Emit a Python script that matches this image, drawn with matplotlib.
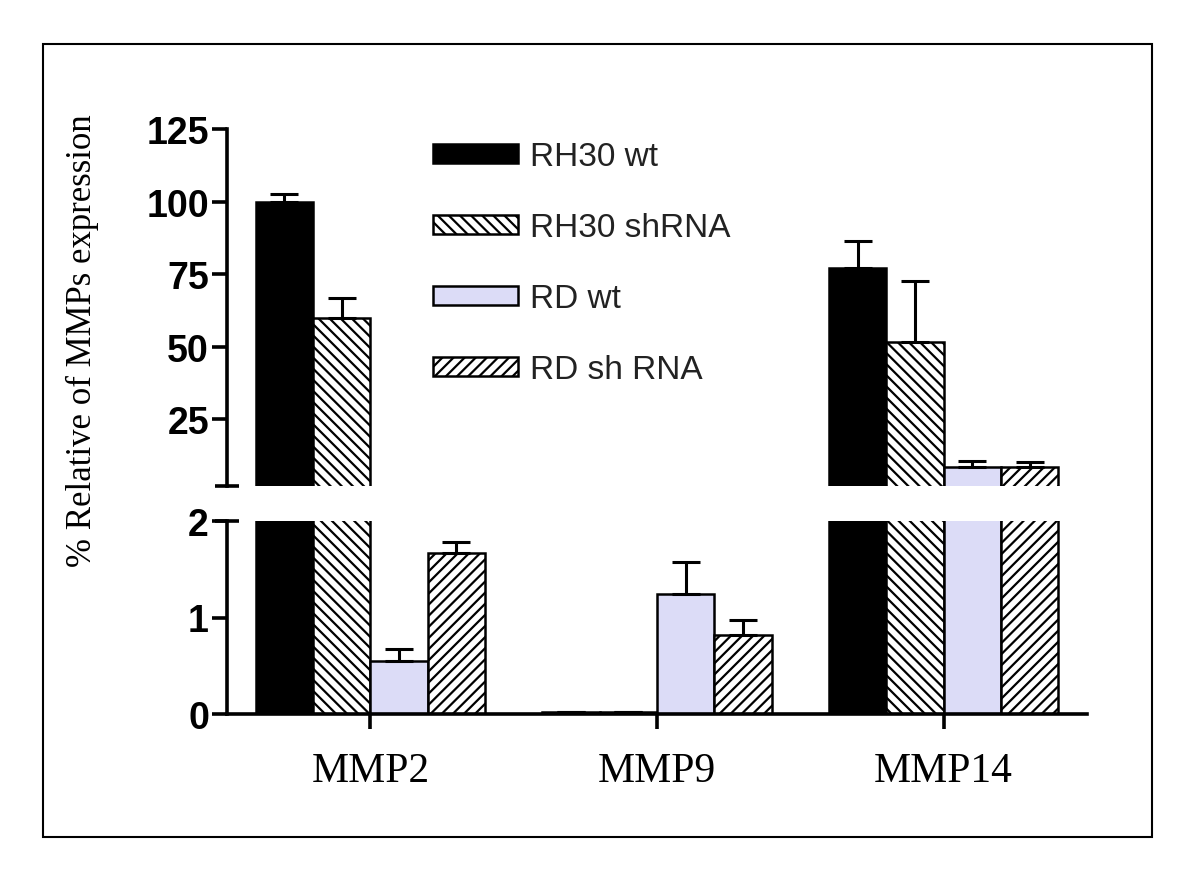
import numpy as np
import matplotlib.pyplot as plt
from matplotlib.patches import Rectangle

# data
genes = ['MMP2', 'MMP9', 'MMP14']
series = ['RH30 wt', 'RH30 shRNA', 'RD wt', 'RD sh RNA']
rh30_wt = [100.0, 0.02, 77.0]
rh30_wt_err = [2.5, 0.0, 9.5]
rh30_sh = [59.8, 0.02, 51.5]
rh30_sh_err = [7.0, 0.0, 21.0]
rd_wt = [0.55, 1.24, 8.6]
rd_wt_err = [0.12, 0.34, 2.0]
rd_sh = [1.67, 0.82, 8.7]
rd_sh_err = [0.11, 0.15, 1.5]

top_ticks = [25, 50, 75, 100, 125]
bottom_ticks = [0, 1, 2]

values = [rh30_wt, rh30_sh, rd_wt, rd_sh]
errors = [rh30_wt_err, rh30_sh_err, rd_wt_err, rd_sh_err]
fills = ['black', 'white', '#dcdcf7', 'white']
hatches = [None, '\\\\\\', None, '///']

plt.rcParams['hatch.linewidth'] = 1.6
plt.rcParams['font.family'] = ['Liberation Sans', 'DejaVu Sans']

W, H = 1200, 879
fig = plt.figure(figsize=(12, 8.79), dpi=100)
fig.patch.set_facecolor('white')

left = 227 / W
width = (1087 - 227) / W
ax_top = fig.add_axes([left, 1 - 487 / H, width, (487 - 130) / H])
ax_bot = fig.add_axes([left, 1 - 715 / H, width, (715 - 522) / H])

top_min = 2
x = np.arange(len(genes))
bw = 0.2
lw_axis = 2.6

bar_handles = []
for ax in (ax_top, ax_bot):
    for i in range(4):
        pos = x + (i - 1.5) * bw
        vals = np.array(values[i])
        errs = np.array(errors[i])
        b = ax.bar(pos, vals, bw, color=fills[i], edgecolor='black',
                   linewidth=1.8, hatch=hatches[i], label=series[i], zorder=2)
        show = vals > top_min if ax is ax_top else np.ones(3, bool)
        if show.any():
            ax.errorbar(pos[show], vals[show], yerr=[np.zeros(show.sum()), errs[show]],
                        fmt='none', ecolor='black', elinewidth=2.2, capsize=10,
                        capthick=2.2, zorder=3)
        if ax is ax_top:
            bar_handles.append(b)
    ax.set_xlim(-0.5, 2.5)
    for s in ('top', 'right'):
        ax.spines[s].set_visible(False)
    ax.spines['left'].set_linewidth(lw_axis)
    ax.spines['bottom'].set_linewidth(lw_axis)
    ax.tick_params(axis='y', length=11, width=lw_axis, labelsize=27, pad=2)

ax_top.set_ylim(top_min, 125)
ax_top.set_yticks(top_ticks)
ax_top.spines['bottom'].set_visible(False)
ax_top.set_xticks([])
for lab in ax_top.get_yticklabels():
    lab.set_fontweight('bold')

ax_bot.set_ylim(0, 2)
ax_bot.set_yticks(bottom_ticks)
ax_bot.set_xticks(x)
ax_bot.set_xticklabels(genes, family=['Liberation Serif'], fontsize=30)
ax_bot.tick_params(axis='x', length=11, width=lw_axis, pad=16)
for lab in ax_bot.get_yticklabels():
    lab.set_fontweight('bold')

# break marks crossing the y axis
ax_top.plot([-0.014, 0.014], [0, 0], transform=ax_top.transAxes, color='black',
            lw=lw_axis, clip_on=False, solid_capstyle='butt')
ax_bot.plot([-0.014, 0.014], [1, 1], transform=ax_bot.transAxes, color='black',
            lw=lw_axis, clip_on=False, solid_capstyle='butt')

leg = ax_top.legend(handles=bar_handles, loc='upper left',
                    bbox_to_anchor=(433 / W, 1 - 142 / H), bbox_transform=fig.transFigure,
                    frameon=False, fontsize=24, handlelength=2.55, handleheight=0.5,
                    labelspacing=1.2, handletextpad=0.35, borderpad=0, borderaxespad=0)
for t in leg.get_texts():
    t.set_color('#222222')

fig.text(82 / W, 1 - 341 / H, '% Relative of MMPs expression', rotation=90,
         ha='center', va='center', fontsize=25, family=['Liberation Serif'])

fig.patches.append(Rectangle((43 / W, 1 - 838 / H), (1152 - 43) / W, (838 - 45) / H,
                             transform=fig.transFigure, fill=False, edgecolor='black',
                             linewidth=1.5))

fig.savefig('out.png', dpi=100)
